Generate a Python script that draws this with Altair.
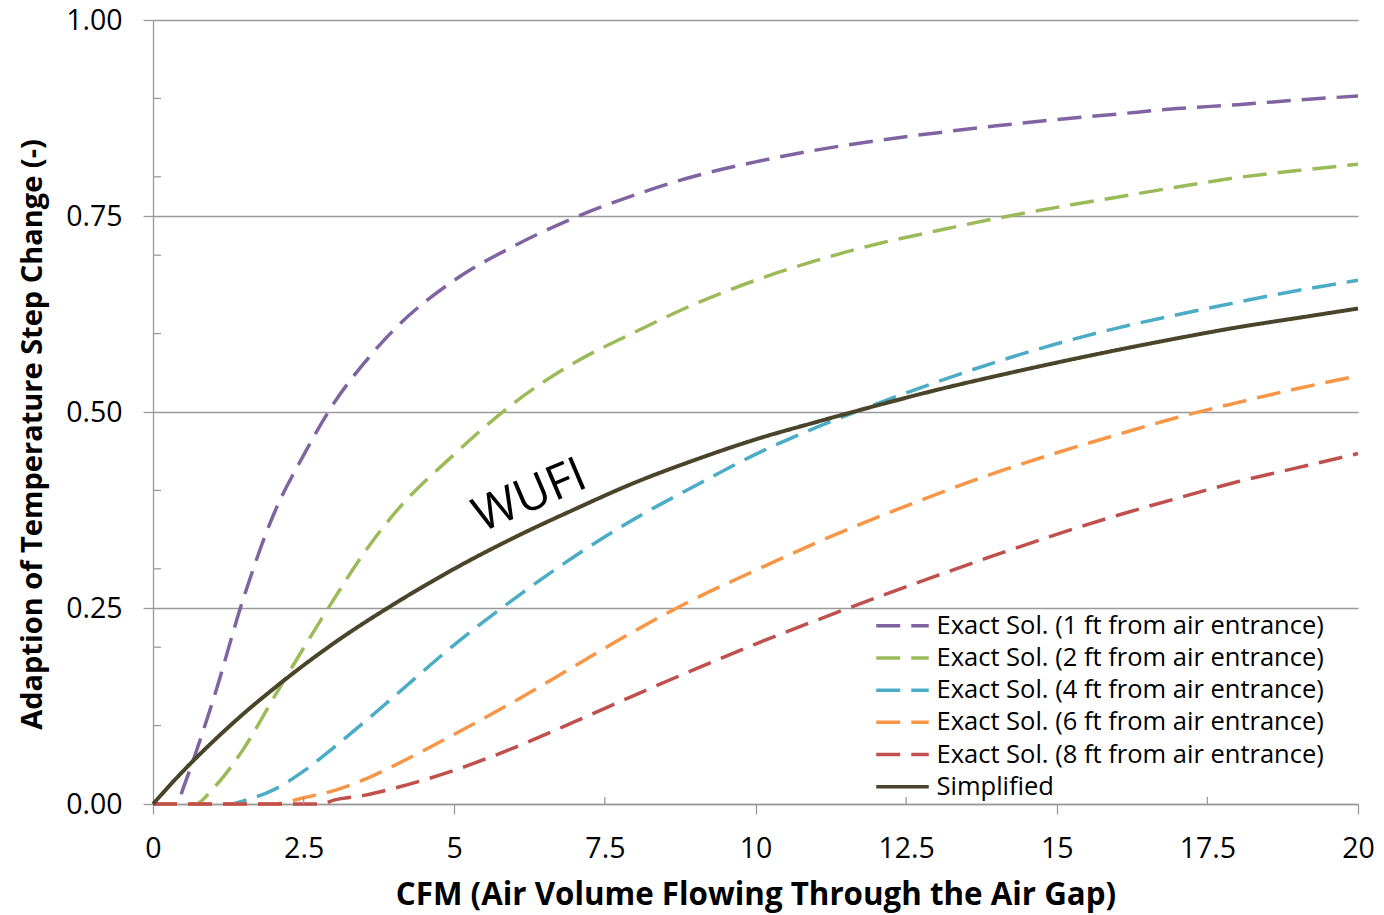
import altair as alt
import pandas as pd

FONT = "Open Sans"
GRID = "#9A9A9A"

SERIES = [
    "Exact Sol. (1 ft from air entrance)",
    "Exact Sol. (2 ft from air entrance)",
    "Exact Sol. (4 ft from air entrance)",
    "Exact Sol. (6 ft from air entrance)",
    "Exact Sol. (8 ft from air entrance)",
    "Simplified",
]
COLORS = ["#8064A2", "#9BBB59", "#4BACC6", "#F79646", "#C0504D", "#4A452A"]
DASHES = [[24, 11]] * 5 + [[1, 0]]

# CFM values and adaption values for each curve
x_1ft = [0, 0.4, 0.5, 1, 1.5, 2, 2.5, 3, 3.5, 4, 5, 6, 7, 8, 9, 10, 11, 12, 13, 14, 15, 16, 17, 18, 19, 20]
y_1ft = [0, 0, 0.02, 0.133, 0.262, 0.369, 0.445, 0.511, 0.562, 0.605, 0.668, 0.712, 0.748, 0.777, 0.801,
         0.819, 0.834, 0.846, 0.856, 0.865, 0.873, 0.880, 0.887, 0.892, 0.898, 0.903]

x_2ft = [0, 0.7, 1, 1.5, 2, 2.5, 3, 3.5, 4, 5, 6, 7, 8, 9, 10, 11, 12, 13, 14, 15, 16, 17, 18, 19, 20]
y_2ft = [0, 0, 0.02, 0.07, 0.135, 0.199, 0.261, 0.32, 0.37, 0.446, 0.512, 0.563, 0.602, 0.638, 0.668,
         0.693, 0.714, 0.731, 0.747, 0.761, 0.774, 0.787, 0.799, 0.808, 0.816]

x_4ft = [0, 1.3, 1.5, 2, 2.5, 3, 3.5, 4, 5, 6, 7, 8, 9, 10, 11, 12, 13, 14, 15, 16, 17, 18, 19, 20]
y_4ft = [0, 0, 0.004, 0.018, 0.042, 0.072, 0.104, 0.137, 0.203, 0.262, 0.316, 0.364, 0.406, 0.446,
         0.480, 0.510, 0.538, 0.564, 0.587, 0.607, 0.624, 0.640, 0.655, 0.668]

x_6ft = [0, 2, 2.5, 3, 3.5, 4, 5, 6, 7, 8, 9, 10, 11, 12, 13, 14, 15, 16, 17, 18, 19, 20]
y_6ft = [0, 0, 0.008, 0.017, 0.031, 0.049, 0.089, 0.131, 0.176, 0.221, 0.262, 0.298, 0.333, 0.365,
         0.395, 0.423, 0.448, 0.471, 0.493, 0.512, 0.530, 0.546]

x_8ft = [0, 2.8, 3, 3.5, 4, 5, 6, 7, 8, 9, 10, 11, 12, 13, 14, 15, 16, 17, 18, 19, 20]
y_8ft = [0, 0, 0.005, 0.011, 0.020, 0.043, 0.072, 0.105, 0.139, 0.172, 0.204, 0.234, 0.263, 0.291,
         0.318, 0.344, 0.368, 0.390, 0.411, 0.429, 0.447]

x_simpl = [0, 0.5, 1, 1.5, 2, 2.5, 3, 4, 5, 6, 7, 8, 9, 10, 11, 12, 13, 14, 15, 16, 17, 18, 19, 20]
y_simpl = [0, 0.042, 0.080, 0.115, 0.147, 0.177, 0.205, 0.255, 0.300, 0.340, 0.376, 0.410, 0.439, 0.465,
           0.487, 0.508, 0.528, 0.546, 0.563, 0.579, 0.594, 0.608, 0.620, 0.632]

X_TICKS = [0, 2.5, 5, 7.5, 10, 12.5, 15, 17.5, 20]
X_MINOR = [2.5, 7.5, 12.5, 17.5]
Y_TICKS = [0, 0.25, 0.5, 0.75, 1.0]
Y_MINOR = [0.1, 0.2, 0.3, 0.4, 0.6, 0.7, 0.8, 0.9]

WUFI_X = [6.26]
WUFI_Y = [0.392]

curves = [(x_1ft, y_1ft), (x_2ft, y_2ft), (x_4ft, y_4ft), (x_6ft, y_6ft), (x_8ft, y_8ft), (x_simpl, y_simpl)]
rows = []
for order, (name, (xs, ys)) in enumerate(zip(SERIES, curves)):
    for xv, yv in zip(xs, ys):
        rows.append({"series": name, "x": xv, "y": yv, "k": order})
df = pd.DataFrame(rows)

x_scale = alt.Scale(domain=[0, 20], nice=False)
y_scale = alt.Scale(domain=[0, 1], nice=False)

legend = alt.Legend(
    title=None, orient="none", legendX=721, legendY=593, padding=0,
    labelFont=FONT, labelFontSize=25.5, labelColor="black", labelLimit=600,
    symbolType="M-1,0L4,0", symbolSize=441, symbolStrokeWidth=3.5,
    labelOffset=37, rowPadding=5.2,
)
color = alt.Color("series:N", scale=alt.Scale(domain=SERIES, range=COLORS), legend=legend)
dash = alt.StrokeDash("series:N", scale=alt.Scale(domain=SERIES, range=DASHES), legend=legend)

x_axis = alt.Axis(
    values=X_TICKS, format=".1~f", labelFont=FONT, labelFontSize=28.5, labelColor="black",
    labelPadding=20, labelFlush=False, tickSize=10, tickWidth=1.3,
    tickColor={"condition": {"test": "datum.value % 5 === 0", "value": GRID}, "value": "transparent"},
    domainColor=GRID, domainWidth=1.3, grid=False,
    title="CFM (Air Volume Flowing Through the Air Gap)", titleFont=FONT, titleFontSize=31.3,
    titleFontWeight="bold", titleColor="black", titlePadding=17,
)
y_axis = alt.Axis(
    values=Y_TICKS, format=".2f", labelFont=FONT, labelFontSize=28.5, labelColor="black",
    labelPadding=21, labelFlush=False, tickSize=10, tickWidth=1.3, tickColor=GRID,
    domainColor=GRID, domainWidth=1.3, grid=True, gridColor=GRID, gridWidth=1.3,
    title="Adaption of Temperature Step Change (-)", titleFont=FONT, titleFontSize=29,
    titleFontWeight="bold", titleColor="black", titlePadding=18, titleY=414,
)

X = alt.X("x:Q", scale=x_scale, axis=x_axis)
Y = alt.Y("y:Q", scale=y_scale, axis=y_axis)

exact = alt.Chart(df[df["series"] != "Simplified"]).mark_line(
    strokeWidth=3.5, interpolate="monotone"
).encode(x=X, y=Y, color=color, strokeDash=dash, detail="series:N", order="k:Q")

simplified = alt.Chart(df[df["series"] == "Simplified"]).mark_line(
    strokeWidth=4, interpolate="monotone"
).encode(x=X, y=Y, color=color, strokeDash=dash)

# small inward ticks on both axes
y_minor = alt.Chart(pd.DataFrame({"y": Y_MINOR})).mark_rule(color=GRID, strokeWidth=1.3).encode(
    y=Y, x=alt.value(0), x2=alt.value(8)
)
x_minor = alt.Chart(pd.DataFrame({"x": X_MINOR})).mark_rule(color=GRID, strokeWidth=1.3).encode(
    x=X, y=alt.value(784), y2=alt.value(777)
)

wufi = alt.Chart(pd.DataFrame({"x": WUFI_X, "y": WUFI_Y, "t": ["WUFI"]})).mark_text(
    font=FONT, fontSize=48, angle=337, color="black", align="center", baseline="middle"
).encode(x=X, y=Y, text="t:N")

chart = alt.layer(exact, simplified, y_minor, x_minor, wufi).properties(
    width=1205, height=784,
    padding={"left": 153, "top": 20, "right": 26, "bottom": 111},
    autosize=alt.AutoSizeParams(type="none"),
    background="white",
).configure_view(stroke=None)

chart.save("out.html", embed_options={"renderer": "svg", "actions": False})
